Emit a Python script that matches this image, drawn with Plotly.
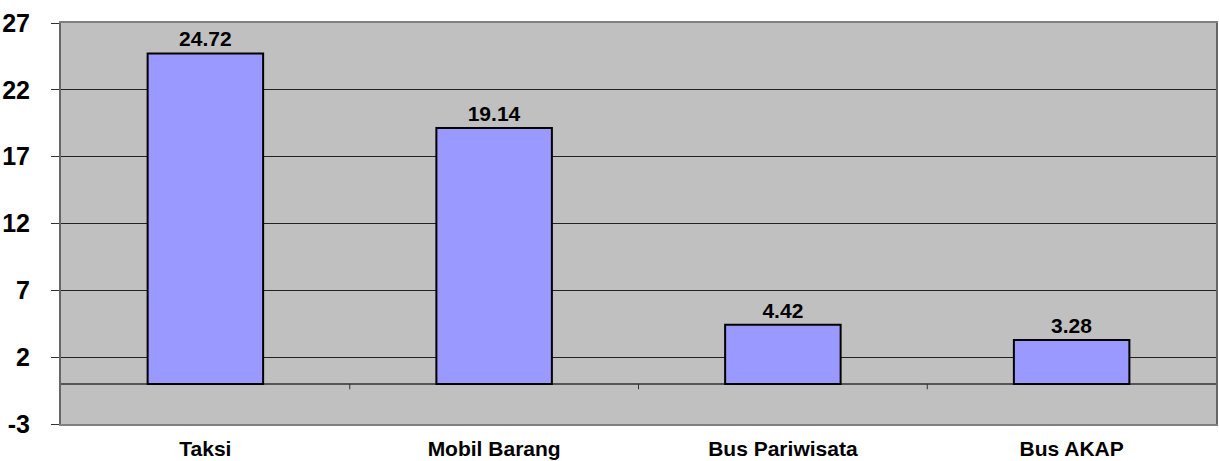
import plotly.graph_objects as go

categories = ["Taksi", "Mobil Barang", "Bus Pariwisata", "Bus AKAP"]
values = [24.72, 19.14, 4.42, 3.28]
value_labels = ["24.72", "19.14", "4.42", "3.28"]
y_ticks = [-3, 2, 7, 12, 17, 22, 27]

fig = go.Figure()
fig.add_trace(go.Bar(
    x=categories, y=values, width=0.4,
    marker=dict(color="#9999FF", line=dict(color="black", width=2)),
    text=["<b>" + t + "</b>" for t in value_labels],
    textposition="outside", cliponaxis=False,
    textfont=dict(family="Liberation Sans, Arial", size=21, color="black"),
))

# category separator ticks on the zero line
for i in range(len(categories) - 1):
    fig.add_shape(type="line", xref="x", yref="y",
                  x0=i + 0.5, x1=i + 0.5, y0=0, y1=-0.4,
                  line=dict(color="#333333", width=1))

fig.update_layout(
    width=1219, height=461,
    margin=dict(l=61, r=1, t=23, b=36),
    paper_bgcolor="white", plot_bgcolor="#C0C0C0",
    showlegend=False, bargap=0.6,
    font=dict(family="Liberation Sans, Arial", color="black"),
)
fig.update_xaxes(
    showgrid=False, ticks="", showline=True, mirror=True,
    linecolor="#808080", linewidth=2,
    tickmode="array", tickvals=categories,
    ticktext=["<b>" + c + "</b>" for c in categories],
    tickfont=dict(size=21), ticklabelstandoff=5,
)
fig.update_yaxes(
    range=[-3, 27], tickvals=y_ticks, ticktext=["<b>" + str(v) + "</b>" for v in y_ticks],
    showgrid=True, gridcolor="#222222", gridwidth=1,
    zeroline=True, zerolinecolor="#555555", zerolinewidth=2,
    showline=True, mirror=True, linecolor="#666666", linewidth=2,
    ticks="outside", ticklen=8, tickcolor="#333333",
    tickfont=dict(size=25), ticklabelstandoff=16,
)

fig.write_html("out.html")
